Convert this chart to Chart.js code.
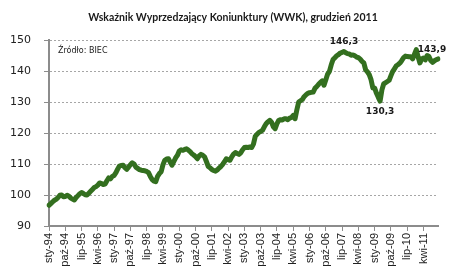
<!DOCTYPE html>
<html>
<head>
<meta charset="utf-8">
<script src="https://cdn.jsdelivr.net/npm/chart.js@4"></script>
<style>
  html, body { margin: 0; padding: 0; background: #fff; }
  #wrap { width: 465px; height: 278px; position: relative; }
</style>
</head>
<body>
<div id="wrap"><canvas id="c"></canvas></div>
<script>
const MONTHS = ['sty','lut','mar','kwi','maj','cze','lip','sie','wrz','paź','lis','gru']
const YEARS = ['94','95','96','97','98','99','00','01','02','03','04','05','06','07','08','09','10','11']
const TITLE = 'Wskaźnik Wyprzedzający Koniunktury (WWK), grudzień 2011'

// WWK, monthly, sty-94 .. gru-11
const wwk = [
  96.7, 97.2, 97.8, 98.3, 98.6, 99.2, 99.9, 100.0, 99.4, 99.5, 99.9, 99.6,
  99.0, 98.7, 98.4, 99.2, 99.8, 100.4, 100.8, 100.5, 100.1, 100.0, 100.6, 101.2,
  101.8, 102.4, 102.7, 103.2, 103.9, 103.7, 103.4, 103.5, 104.6, 105.5, 105.2, 106.0,
  106.3, 107.2, 108.4, 109.4, 109.5, 109.6, 108.8, 108.3, 109.0, 109.8, 110.4, 110.0,
  109.0, 108.6, 108.2, 108.0, 107.9, 107.8, 107.6, 107.2, 106.0, 105.0, 104.5, 104.3,
  106.0, 106.9, 107.5, 109.8, 111.2, 111.6, 111.7, 110.6, 109.6, 110.8, 112.0, 112.8,
  114.2, 114.6, 114.4, 114.7, 114.9, 114.5, 114.0, 113.3, 112.9, 112.4, 111.7, 112.6,
  113.1, 112.8, 112.3, 110.8, 109.2, 108.8, 108.2, 107.9, 107.7, 108.1, 108.7, 109.2,
  109.9, 110.7, 111.7, 111.4, 111.2, 112.3, 113.2, 113.7, 113.4, 113.1, 113.6, 114.6,
  115.3, 115.4, 115.3, 115.5, 115.3, 116.4, 118.9, 119.6, 120.2, 120.5, 120.9, 122.0,
  123.0, 123.6, 124.1, 123.5, 122.0, 121.4, 123.0, 124.1, 124.3, 124.2, 124.6, 124.6,
  124.3, 124.8, 125.0, 125.7, 124.6, 127.5, 130.0, 130.4, 130.8, 131.7, 132.3, 132.8,
  133.0, 133.1, 133.2, 134.4, 135.0, 135.7, 136.3, 136.8, 135.4, 137.2, 139.0, 139.9,
  142.0, 143.7, 144.3, 144.9, 145.3, 145.8, 146.0, 146.3, 145.9, 145.6, 145.5, 145.1,
  145.2, 144.9, 144.5, 144.3, 143.8, 143.1, 142.6, 140.4, 139.7, 138.8, 137.2, 134.5,
  134.5, 132.8, 131.5, 130.3, 133.9, 135.9, 136.2, 136.6, 137.0, 138.5, 139.9, 140.8,
  141.7, 142.1, 142.6, 143.4, 144.3, 144.8, 144.7, 144.6, 144.6, 143.9, 145.4, 146.9,
  144.6, 142.6, 143.9, 144.2, 143.6, 145.0, 144.7, 143.4, 142.8, 143.3, 143.6, 143.9
]

// labelled points: index into wwk, text, placement
const markIdx = [163, 183, 215]
const markText = ['146,3', '130,3', '143,9']
const markPos = ['above', 'below', 'above']

const labels = []
YEARS.forEach(y => MONTHS.forEach(m => labels.push(m + '-' + y)))

const markPlugin = {
  id: 'marks',
  afterDatasetsDraw(chart) {
    const { ctx, scales: { x, y }, chartArea } = chart
    ctx.save()
    ctx.fillStyle = '#1a1a1a'
    ctx.font = 'bold 10.5px Lato, sans-serif'
    ctx.textAlign = 'center'
    ctx.textBaseline = 'middle'
    ctx.fillText(TITLE, 233, 18)

    ctx.font = 'bold 9px "DejaVu Sans", sans-serif'
    markIdx.forEach((idx, k) => {
      const px = x.getPixelForValue(idx)
      const py = y.getPixelForValue(wwk[idx])
      let dx = 0
      if (idx === wwk.length - 1) dx = -6
      if (markPos[k] === 'above') {
        ctx.textBaseline = 'bottom'
        ctx.fillText(markText[k], px + dx, py - 5)
      } else {
        ctx.textBaseline = 'top'
        ctx.fillText(markText[k], px + dx, py + 6)
      }
    })
    ctx.font = '8px "DejaVu Sans", sans-serif'
    ctx.textAlign = 'left'
    ctx.textBaseline = 'middle'
    ctx.fillText('Źródło: BIEC', chartArea.left + 9, chartArea.top + 11)
    ctx.restore()
  }
}

new Chart(document.getElementById('c'), {
  type: 'line',
  data: {
    labels,
    datasets: [{
      data: wwk,
      borderColor: '#336f1f',
      borderWidth: 5,
      pointRadius: 0,
      tension: 0,
      borderJoinStyle: 'round',
      borderCapStyle: 'round'
    }]
  },
  options: {
    responsive: true, maintainAspectRatio: false, animation: false,
    layout: { padding: { left: 0, right: 27, top: 40, bottom: 0 } },
    plugins: {
      legend: { display: false },
      tooltip: { enabled: false },
      title: { display: false }
    },
    scales: {
      x: {
        offset: false,
        afterFit: s => { s.height = 52 },
        grid: { display: true, drawOnChartArea: false, tickLength: 5, color: '#8c8c8c' },
        border: { display: true, color: '#8c8c8c', width: 2 },
        ticks: {
          autoSkip: false, minRotation: 90, maxRotation: 90, padding: 2,
          color: '#222',
          font: { family: '"Liberation Sans", Arial, sans-serif', size: 11 },
          callback: (v, i) => (i % 9 === 0 ? labels[i] : null)
        }
      },
      y: {
        min: 90, max: 150,
        afterFit: s => { s.width = 49 },
        grid: { color: '#a6a6a6', lineWidth: 1, tickLength: 5, tickColor: '#8c8c8c', tickBorderDash: [] },
        border: { display: true, color: '#8c8c8c', width: 2, dash: [2, 2] },
        ticks: {
          stepSize: 10, padding: 13, color: '#222',
          font: { family: '"DejaVu Sans", sans-serif', size: 11 }
        }
      }
    }
  },
  plugins: [markPlugin]
})
</script>
</body>
</html>
